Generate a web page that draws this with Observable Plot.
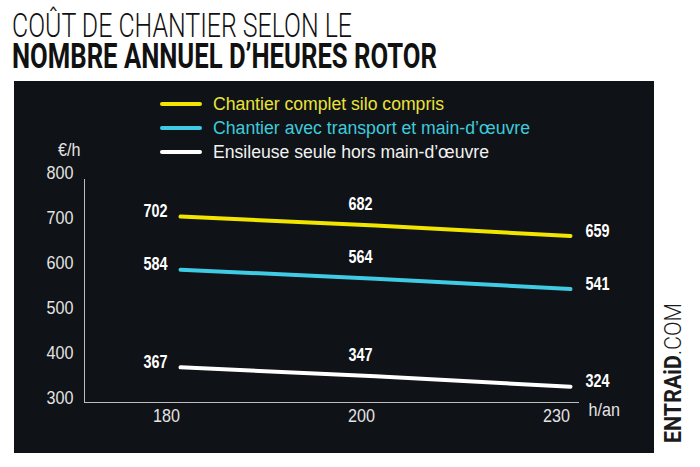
<!DOCTYPE html>
<html><head><meta charset="utf-8">
<script src="https://cdn.jsdelivr.net/npm/d3@7"></script>
<script src="https://cdn.jsdelivr.net/npm/@observablehq/plot@0.6"></script>
<style>
body{margin:0;background:#fff;width:700px;height:467px;position:relative;overflow:hidden;font-family:"Liberation Sans",Arial,sans-serif;}
#title{position:absolute;left:0;top:0;}
#panel{position:absolute;left:14px;top:81px;width:640px;height:372px;background:#0f1216;}
#panel svg{position:absolute;left:0;top:0;overflow:visible;}
#legend{position:absolute;left:146px;top:11px;}
.row{display:flex;align-items:center;height:24px;}
.sw{width:42px;height:4px;border-radius:2px;margin-right:11px;flex:none;}
.lt{font-size:18px;line-height:24px;white-space:nowrap;transform-origin:0 50%;}
#brand{position:absolute;left:662px;top:443px;font-family:Roboto,sans-serif;font-size:23px;line-height:23px;white-space:nowrap;color:#1b1b1b;transform-origin:0 0;}
</style></head>
<body>
<svg id="title" width="700" height="80"></svg>
<div id="panel"><div id="legend"></div></div>
<div id="brand"><b>ENTRAiD</b><span style="font-weight:300">.COM</span></div>
<script>
const titleLines = ["COÛT DE CHANTIER SELON LE", "NOMBRE ANNUEL D’HEURES ROTOR"];
const hours = ["180", "200", "230"];
const series = [
  "Chantier complet silo compris",
  "Chantier avec transport et main-d’œuvre",
  "Ensileuse seule hors main-d’œuvre"
];
const colors = ["#f2e600", "#3fcbe4", "#ffffff"];
const legendText = ["#ebe33a", "#3fcadb", "#f2f2f2"];
const complet = [702, 682, 659];
const transport = [584, 564, 541];
const ensileuse = [367, 347, 324];
const yTicks = [300, 400, 500, 600, 700, 800];

const data = [complet, transport, ensileuse].flatMap((vals, i) =>
  vals.map((v, j) => ({serie: series[i], h: hours[j], v})));

// title: one text element, two lines
const tt = d3.select("#title").append("text").attr("font-family", "Roboto, 'Liberation Sans', sans-serif").attr("fill", "#111");
tt.append("tspan").attr("x", 12).attr("y", 37).attr("font-size", 34).attr("font-weight", 300)
  .attr("textLength", 340).attr("lengthAdjust", "spacingAndGlyphs").text(titleLines[0]);
tt.append("tspan").attr("x", 12).attr("y", 68).attr("font-size", 35).attr("font-weight", 700)
  .attr("textLength", 425).attr("lengthAdjust", "spacingAndGlyphs").text(titleLines[1]);

const font = "'Liberation Sans',Arial,sans-serif";
const lbl = {x: "h", y: "v", text: d => String(d.v), fill: "#ffffff", fontWeight: "bold", fontSize: 18};

const chart = Plot.plot({
  width: 640, height: 372,
  marginLeft: 70, marginRight: 76, marginTop: 98, marginBottom: 51,
  style: {background: "transparent", color: "#e4e4e4", fontFamily: font, fontSize: "19px"},
  x: {type: "point", domain: hours, range: [166, 556], padding: 0},
  y: {domain: [300, 800], range: [316, 91]},
  color: {domain: series, range: colors},
  marks: [
    Plot.frame({anchor: "left", stroke: "#bdbdbd"}),
    Plot.frame({anchor: "bottom", stroke: "#bdbdbd"}),
    Plot.axisY(yTicks, {tickSize: 0, tickPadding: 11, label: null, fontSize: 19}),
    Plot.axisX({tickSize: 0, tickPadding: 6, dx: -14, label: null, fontSize: 19}),
    Plot.line(data, {x: "h", y: "v", z: "serie", stroke: "serie", strokeWidth: 4, strokeLinecap: "round", strokeLinejoin: "round"}),
    Plot.text(data, {...lbl, filter: d => d.h === hours[0], textAnchor: "end", dx: -13, dy: -5}),
    Plot.text(data, {...lbl, filter: d => d.h === hours[1], textAnchor: "middle", dx: -15, dy: -21}),
    Plot.text(data, {...lbl, filter: d => d.h === hours[2], textAnchor: "start", dx: 15, dy: -5}),
    Plot.text(["€/h"], {frameAnchor: "top-left", dx: -4, dy: -37, textAnchor: "end", fontSize: 19}),
    Plot.text(["h/an"], {frameAnchor: "bottom-right", dx: 10, dy: 13, textAnchor: "start", fontSize: 19})
  ]
});
document.getElementById("panel").prepend(chart);

// condense SVG text to mimic a narrow typeface
chart.querySelectorAll("text").forEach(t => {
  const w = t.getComputedTextLength();
  const bold = parseInt(getComputedStyle(t).fontWeight) >= 600;
  t.setAttribute("textLength", (w * (bold ? 0.8 : 0.85)).toFixed(2));
  t.setAttribute("lengthAdjust", "spacingAndGlyphs");
});

function fit(el, target) {
  const w = el.getBoundingClientRect().width;
  el.style.transform = `scaleX(${target / w})`;
}

const legend = d3.select("#legend");
const legendWidths = [231, 317, 276];
series.forEach((s, i) => {
  const r = legend.append("div").attr("class", "row");
  r.append("div").attr("class", "sw").style("background", colors[i]);
  const t = r.append("div").attr("class", "lt").style("color", legendText[i]).text(s);
  fit(t.node(), legendWidths[i]);
});

const brand = document.getElementById("brand");
const bw = brand.getBoundingClientRect().width;
brand.style.transform = `rotate(-90deg) scaleX(${140 / bw})`;
</script>
</body></html>
